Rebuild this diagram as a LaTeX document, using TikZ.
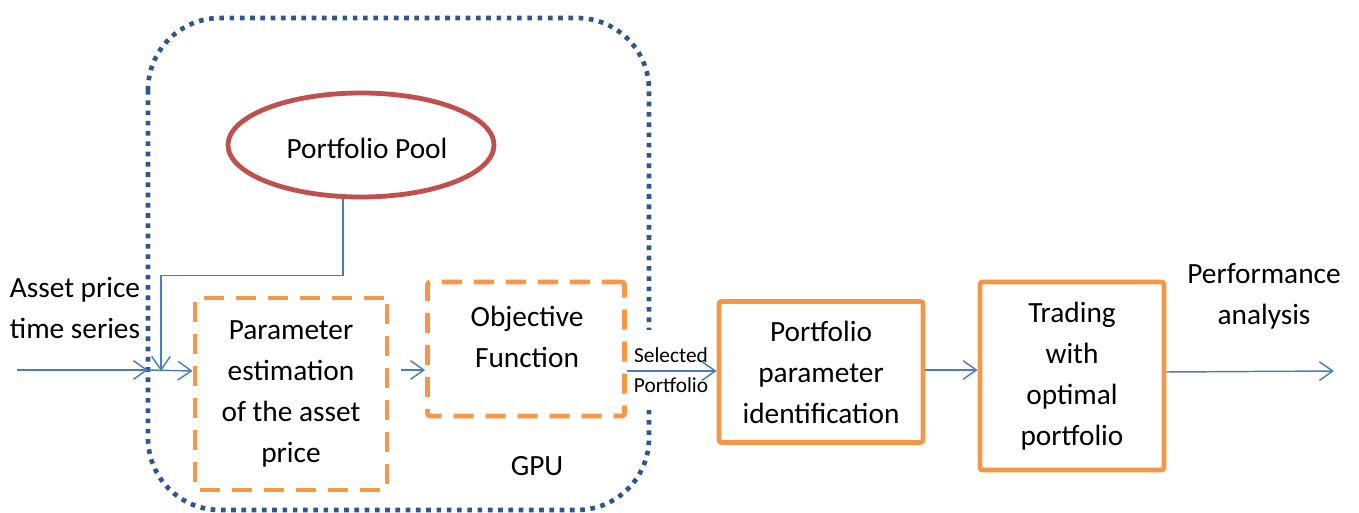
\documentclass[tikz,border=0pt]{standalone}
\usepackage{fontspec}
\setmainfont{Carlito}
\usetikzlibrary{arrows.meta,shapes.geometric}
\definecolor{boxorange}{HTML}{F79646}
\definecolor{lineblue}{HTML}{4A7EBB}
\definecolor{dotblue}{HTML}{2F5690}
\definecolor{poolred}{HTML}{C0504D}
\tikzset{
  big/.style={font={\fontsize{22pt}{30.75pt}\selectfont}, align=center, inner sep=0pt},
  small/.style={font={\fontsize{16pt}{22.5pt}\selectfont}, align=center},
  dashbox/.style={draw=boxorange, line width=3.6pt, dash pattern=on 15pt off 9pt, rounded corners=2pt, minimum width=#1},
  solidbox/.style={draw=boxorange, line width=3.6pt, rounded corners=2pt},
  conn/.style={draw=lineblue, line width=1.1pt, -{Straight Barb[length=10pt,width=14pt,line width=1.1pt]}},
  gpuline/.style={draw=dotblue, line width=3.5pt, dash pattern=on 3.5pt off 4.2pt},
}
\begin{document}
\begin{tikzpicture}[x=0.75pt,y=-0.75pt]
\useasboundingbox (0,0) rectangle (1359,513);
% GPU region
\draw[gpuline, rounded corners=54pt] (148,18) rectangle (649,510);
\node[big] (gpu) at (537,466) {GPU};
% Portfolio pool
\node[draw=poolred, line width=3.6pt, ellipse, minimum width=199.5pt, minimum height=78pt] (pool) at (361,145) {};
\node[big] (pooltxt) at (367,148) {Portfolio Pool};
% boxes
\node[dashbox=144pt, minimum height=144pt, big] (param) at (291,394) {Parameter\\estimation\\of the asset\\price};
\node[dashbox=147.75pt, minimum height=100.5pt] (obj) at (526,349) {};
\node[big] (objtxt) at (527,337) {Objective\\Function};
\node[solidbox, minimum width=153pt, minimum height=105.75pt, big] (ppi) at (821,372) {Portfolio\\parameter\\identification};
\node[solidbox, minimum width=138pt, minimum height=141pt, big] (trade) at (1072,376) {Trading\\with\\optimal\\portfolio};
% labels
\node[big] (asset) at (75,308) {Asset price\\time series};
\node[big] (perf) at (1264,296) {Performance\\analysis};
\node[small, fill=white, inner sep=2pt, minimum height=60pt] (sel) at (671,370) {Selected\\Portfolio};
% coordinates
\coordinate (in) at (17,370);
\coordinate (j1) at (148,370);
\coordinate (j2) at (161,371);
\coordinate (out) at (1334,371);
% connectors
\draw[conn] (in) -- (j1);
\draw[conn] (j1) -- (param.west |- j2);
\draw[conn] ([xshift=-13.5pt]pool.south) -- ++(0,-57pt) -| (j2);
\draw[conn] ([xshift=9pt]param.east |- 0,370) -- (obj.west |- 0,370);
\draw[conn] (obj.east |- 0,371) -- (ppi.west |- 0,371);
\draw[conn] (ppi.east |- 0,370) -- (trade.west |- 0,370);
\draw[conn] (trade.east |- 0,372) -- (out);
\end{tikzpicture}
\end{document}
